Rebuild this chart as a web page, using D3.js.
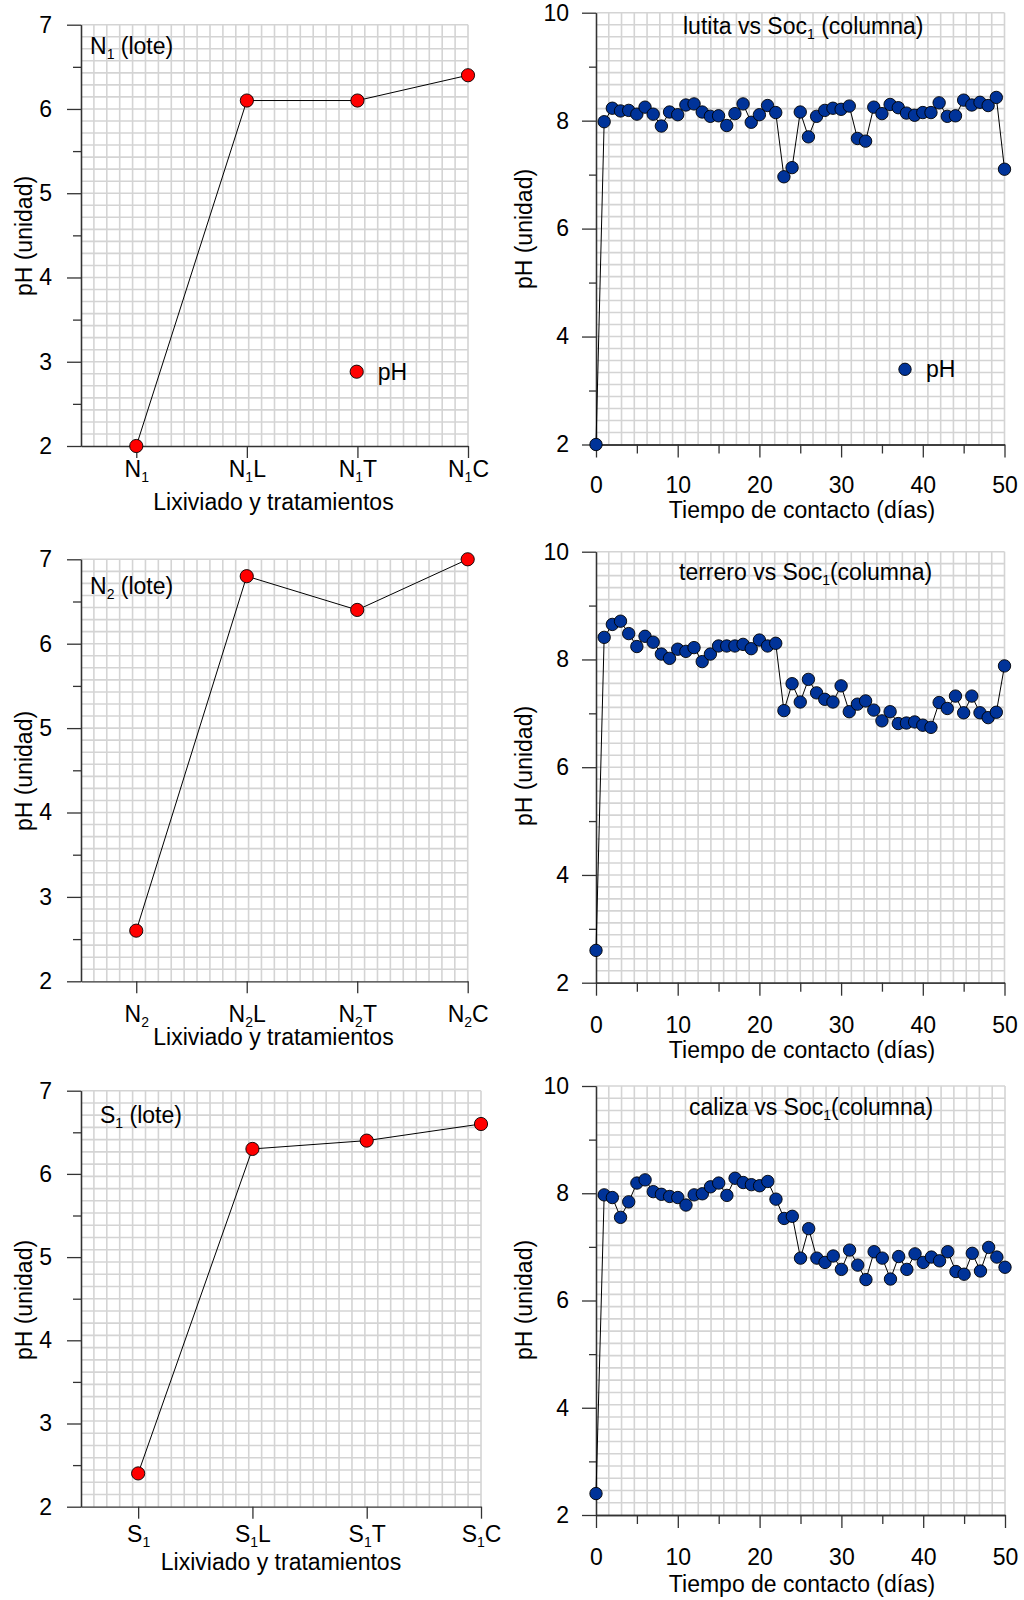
<!DOCTYPE html>
<html>
<head>
<meta charset="utf-8">
<script src="https://cdn.jsdelivr.net/npm/d3@7"></script>
<style>
body { margin: 0; background: #fff; }
svg { display: block; font-family: "Liberation Sans", Arial, sans-serif; }
</style>
</head>
<body>
<svg width="1024" height="1600"></svg>
<script>
// batch (lote) results
const catsN1 = ['N1', 'N1L', 'N1T', 'N1C'];
const catsN2 = ['N2', 'N2L', 'N2T', 'N2C'];
const catsS1 = ['S1', 'S1L', 'S1T', 'S1C'];
const phN1 = [2.0, 6.1, 6.1, 6.4];
const phN2 = [2.6, 6.8, 6.4, 7.0];
const phS1 = [2.4, 6.3, 6.4, 6.6];

// column results, day by day
const days = [0, 1, 2, 3, 4, 5, 6, 7, 8, 9, 10, 11, 12, 13, 14, 15, 16, 17, 18, 19, 20,
    21, 22, 23, 24, 25, 26, 27, 28, 29, 30, 31, 32, 33, 34, 35, 36, 37, 38, 39, 40,
    41, 42, 43, 44, 45, 46, 47, 48, 49, 50];
const phLutita = [2.0, 7.98, 8.23, 8.18, 8.19, 8.12, 8.25, 8.12, 7.9, 8.16, 8.11,
    8.29, 8.31, 8.16, 8.08, 8.09, 7.91, 8.13, 8.31, 7.97, 8.11,
    8.28, 8.15, 6.96, 7.13, 8.16, 7.7, 8.08, 8.19, 8.23, 8.21,
    8.27, 7.67, 7.62, 8.25, 8.13, 8.3, 8.24, 8.14, 8.1, 8.15,
    8.15, 8.33, 8.08, 8.09, 8.38, 8.29, 8.34, 8.28, 8.43, 7.1];
const phTerrero = [2.6, 8.41, 8.65, 8.71, 8.48, 8.24, 8.43, 8.32, 8.1, 8.02, 8.19,
    8.15, 8.22, 7.96, 8.1, 8.25, 8.25, 8.25, 8.28, 8.2, 8.36,
    8.25, 8.3, 7.05, 7.55, 7.21, 7.63, 7.38, 7.26, 7.21, 7.51,
    7.03, 7.17, 7.23, 7.06, 6.86, 7.03, 6.81, 6.82, 6.84, 6.78,
    6.74, 7.2, 7.09, 7.32, 7.01, 7.32, 7.01, 6.92, 7.02, 7.88];
const phCaliza = [2.4, 7.97, 7.92, 7.55, 7.84, 8.19, 8.25, 8.03, 7.98, 7.94, 7.92,
    7.78, 7.97, 7.99, 8.12, 8.19, 7.96, 8.28, 8.2, 8.16, 8.14,
    8.22, 7.89, 7.53, 7.57, 6.79, 7.34, 6.79, 6.71, 6.83, 6.58,
    6.94, 6.66, 6.39, 6.91, 6.79, 6.4, 6.82, 6.58, 6.87, 6.71,
    6.81, 6.74, 6.91, 6.54, 6.49, 6.88, 6.55, 6.99, 6.81, 6.62];

const loteTicks = [2, 3, 4, 5, 6, 7];
const loteMinor = [2.5, 3.5, 4.5, 5.5, 6.5];
const colTicks = [2, 4, 6, 8, 10];
const colMinor = [3, 5, 7, 9];
const dayTicks = [0, 10, 20, 30, 40, 50];
const dayMinor = [5, 15, 25, 35, 45];

const FONT = 23;
const SUB = 14;
const AXIS = '#333';
const GRID = '#d4d4d4';

let svg = d3.select('svg');

// write "N1L" style text: letter, subscript digit, rest
function subText(sel, parts){
    sel.text(null);
    sel.append('tspan').text(parts[0]);
    sel.append('tspan').attr('font-size', SUB).attr('dy', 5).text(parts[1]);
    sel.append('tspan').attr('dy', -5).text(parts[2]);
}

function drawGrid(g, x0, x1, y0, y1){
    const cols = Math.round((x1 - x0) / 12.9);
    const rows = Math.round((y0 - y1) / 12.1);
    const gx = d3.scaleLinear().domain([0, cols]).range([x0, x1]);
    const gy = d3.scaleLinear().domain([0, rows]).range([y0, y1]);
    g.append('g').selectAll('line')
        .data(d3.range(1, cols + 1))
        .enter().append('line')
            .attr('x1', d => gx(d)).attr('x2', d => gx(d))
            .attr('y1', y0).attr('y2', y1)
            .attr('stroke', GRID).attr('stroke-width', 1.6);
    g.append('g').selectAll('line')
        .data(d3.range(1, rows + 1))
        .enter().append('line')
            .attr('x1', x0).attr('x2', x1)
            .attr('y1', d => gy(d)).attr('y2', d => gy(d))
            .attr('stroke', GRID).attr('stroke-width', 1.6);
}

function styleAxis(g){
    g.selectAll('path, line').attr('stroke', AXIS).attr('stroke-width', 1.3);
    g.selectAll('text').attr('fill', '#000').attr('font-size', FONT)
        .attr('font-family', '"Liberation Sans", Arial, sans-serif');
}

function yLabel(x, y){
    svg.append('text')
        .attr('transform', `translate(${x},${y}) rotate(-90)`)
        .attr('text-anchor', 'middle')
        .attr('font-size', FONT)
        .text('pH (unidad)');
}

function legend(cx, cy, r, fill){
    svg.append('circle')
        .attr('cx', cx).attr('cy', cy).attr('r', r)
        .attr('fill', fill).attr('stroke', '#000').attr('stroke-width', 0.9);
    svg.append('text')
        .attr('x', cx + 21).attr('y', cy + 8)
        .attr('font-size', FONT)
        .text('pH');
}

// batch panel: categories on x
function lotePanel(o){
    const x = d3.scaleLinear().domain([-0.5, o.cats.length - 1]).range(o.xr);
    const y = d3.scaleLinear().domain([2, 7]).range(o.yr);
    const g = svg.append('g');
    drawGrid(g, o.xr[0], o.xr[1], o.yr[0], o.yr[1]);

    g.append('g').attr('transform', `translate(${o.xr[0]},0)`)
        .call(d3.axisLeft(y).tickValues(loteMinor).tickSize(8).tickFormat('').tickSizeOuter(0))
        .call(styleAxis);
    g.append('g').attr('transform', `translate(${o.xr[0]},0)`)
        .call(d3.axisLeft(y).tickValues(loteTicks).tickSize(14).tickPadding(15)
            .tickFormat(d3.format('d')).tickSizeOuter(0))
        .call(styleAxis);
    g.append('g').attr('transform', `translate(0,${o.yr[0]})`)
        .call(d3.axisBottom(x).tickValues(d3.range(o.cats.length)).tickSize(12).tickSizeOuter(0))
        .call(styleAxis)
        .call(a => a.selectAll('.tick text')
            .attr('y', o.tickOff).attr('dy', 0)
            .each(function(d){
                const s = o.cats[d];
                subText(d3.select(this), [s[0], s[1], s.slice(2)]);
            }));

    g.append('path')
        .datum(o.values)
        .attr('fill', 'none').attr('stroke', '#000').attr('stroke-width', 1)
        .attr('d', d3.line().x((d, i) => x(i)).y(d => y(d)));
    g.append('g').selectAll('circle')
        .data(o.values)
        .enter().append('circle')
            .attr('cx', (d, i) => x(i)).attr('cy', d => y(d)).attr('r', 6.6)
            .attr('fill', '#ff0000').attr('stroke', '#000').attr('stroke-width', 0.9);

    subText(svg.append('text').attr('x', o.titlePos[0]).attr('y', o.titlePos[1]).attr('font-size', FONT), o.title);
    svg.append('text')
        .attr('x', o.xlabel[0]).attr('y', o.xlabel[1])
        .attr('text-anchor', 'middle').attr('font-size', FONT)
        .text('Lixiviado y tratamientos');
    yLabel(32, o.ylabelY);
    if (o.legend) legend(o.legend[0], o.legend[1], 6.6, '#ff0000');
}

// column panel: days on x
function colPanel(o){
    const x = d3.scaleLinear().domain([0, 50]).range(o.xr);
    const y = d3.scaleLinear().domain([2, 10]).range(o.yr);
    const g = svg.append('g');
    drawGrid(g, o.xr[0], o.xr[1], o.yr[0], o.yr[1]);

    g.append('g').attr('transform', `translate(${o.xr[0]},0)`)
        .call(d3.axisLeft(y).tickValues(colMinor).tickSize(7).tickFormat('').tickSizeOuter(0))
        .call(styleAxis);
    g.append('g').attr('transform', `translate(${o.xr[0]},0)`)
        .call(d3.axisLeft(y).tickValues(colTicks).tickSize(14).tickPadding(13)
            .tickFormat(d3.format('d')).tickSizeOuter(0))
        .call(styleAxis);
    g.append('g').attr('transform', `translate(0,${o.yr[0]})`)
        .call(d3.axisBottom(x).tickValues(dayMinor).tickSize(9).tickFormat('').tickSizeOuter(0))
        .call(styleAxis);
    g.append('g').attr('transform', `translate(0,${o.yr[0]})`)
        .call(d3.axisBottom(x).tickValues(dayTicks).tickSize(13).tickSizeOuter(0))
        .call(styleAxis)
        .call(a => a.selectAll('.tick text').attr('y', o.tickOff).attr('dy', 0));

    g.append('path')
        .datum(o.values)
        .attr('fill', 'none').attr('stroke', '#000').attr('stroke-width', 1)
        .attr('d', d3.line().x((d, i) => x(days[i])).y(d => y(d)));
    g.append('g').selectAll('circle')
        .data(o.values)
        .enter().append('circle')
            .attr('cx', (d, i) => x(days[i])).attr('cy', d => y(d)).attr('r', 6.2)
            .attr('fill', '#003399').attr('stroke', '#000').attr('stroke-width', 0.9);

    subText(svg.append('text').attr('x', o.titlePos[0]).attr('y', o.titlePos[1]).attr('font-size', FONT), o.title);
    svg.append('text')
        .attr('x', 802).attr('y', o.xlabelY)
        .attr('text-anchor', 'middle').attr('font-size', FONT)
        .text('Tiempo de contacto (días)');
    yLabel(532, o.ylabelY);
    if (o.legend) legend(o.legend[0], o.legend[1], 6.2, '#003399');
}

lotePanel({ cats: catsN1, values: phN1, title: ['N', '1', ' (lote)'],
    xr: [81, 468], yr: [446, 24.7], titlePos: [90, 53.5], tickOff: 30.7,
    xlabel: [273.5, 510], ylabelY: 236, legend: [356.7, 371.7] });
lotePanel({ cats: catsN2, values: phN2, title: ['N', '2', ' (lote)'],
    xr: [81, 467.7], yr: [981.3, 559.3], titlePos: [90, 594.3], tickOff: 40.4,
    xlabel: [273.5, 1045], ylabelY: 771 });
lotePanel({ cats: catsS1, values: phS1, title: ['S', '1', ' (lote)'],
    xr: [81, 481], yr: [1506.7, 1090.7], titlePos: [100, 1123.3], tickOff: 35,
    xlabel: [281, 1570], ylabelY: 1300 });

colPanel({ values: phLutita, title: ['lutita vs Soc', '1', ' (columna)'],
    xr: [596, 1004.5], yr: [444.5, 12.7], titlePos: [683, 34.3], tickOff: 48.8,
    xlabelY: 518.3, ylabelY: 229, legend: [905, 369.3] });
colPanel({ values: phTerrero, title: ['terrero vs Soc', '1', '(columna)'],
    xr: [596, 1004.5], yr: [982.7, 551.7], titlePos: [679, 580], tickOff: 50.6,
    xlabelY: 1058, ylabelY: 766 });
colPanel({ values: phCaliza, title: ['caliza vs Soc', '1', '(columna)'],
    xr: [596, 1005], yr: [1515, 1086], titlePos: [689, 1115], tickOff: 50,
    xlabelY: 1592, ylabelY: 1300 });
</script>
</body>
</html>
